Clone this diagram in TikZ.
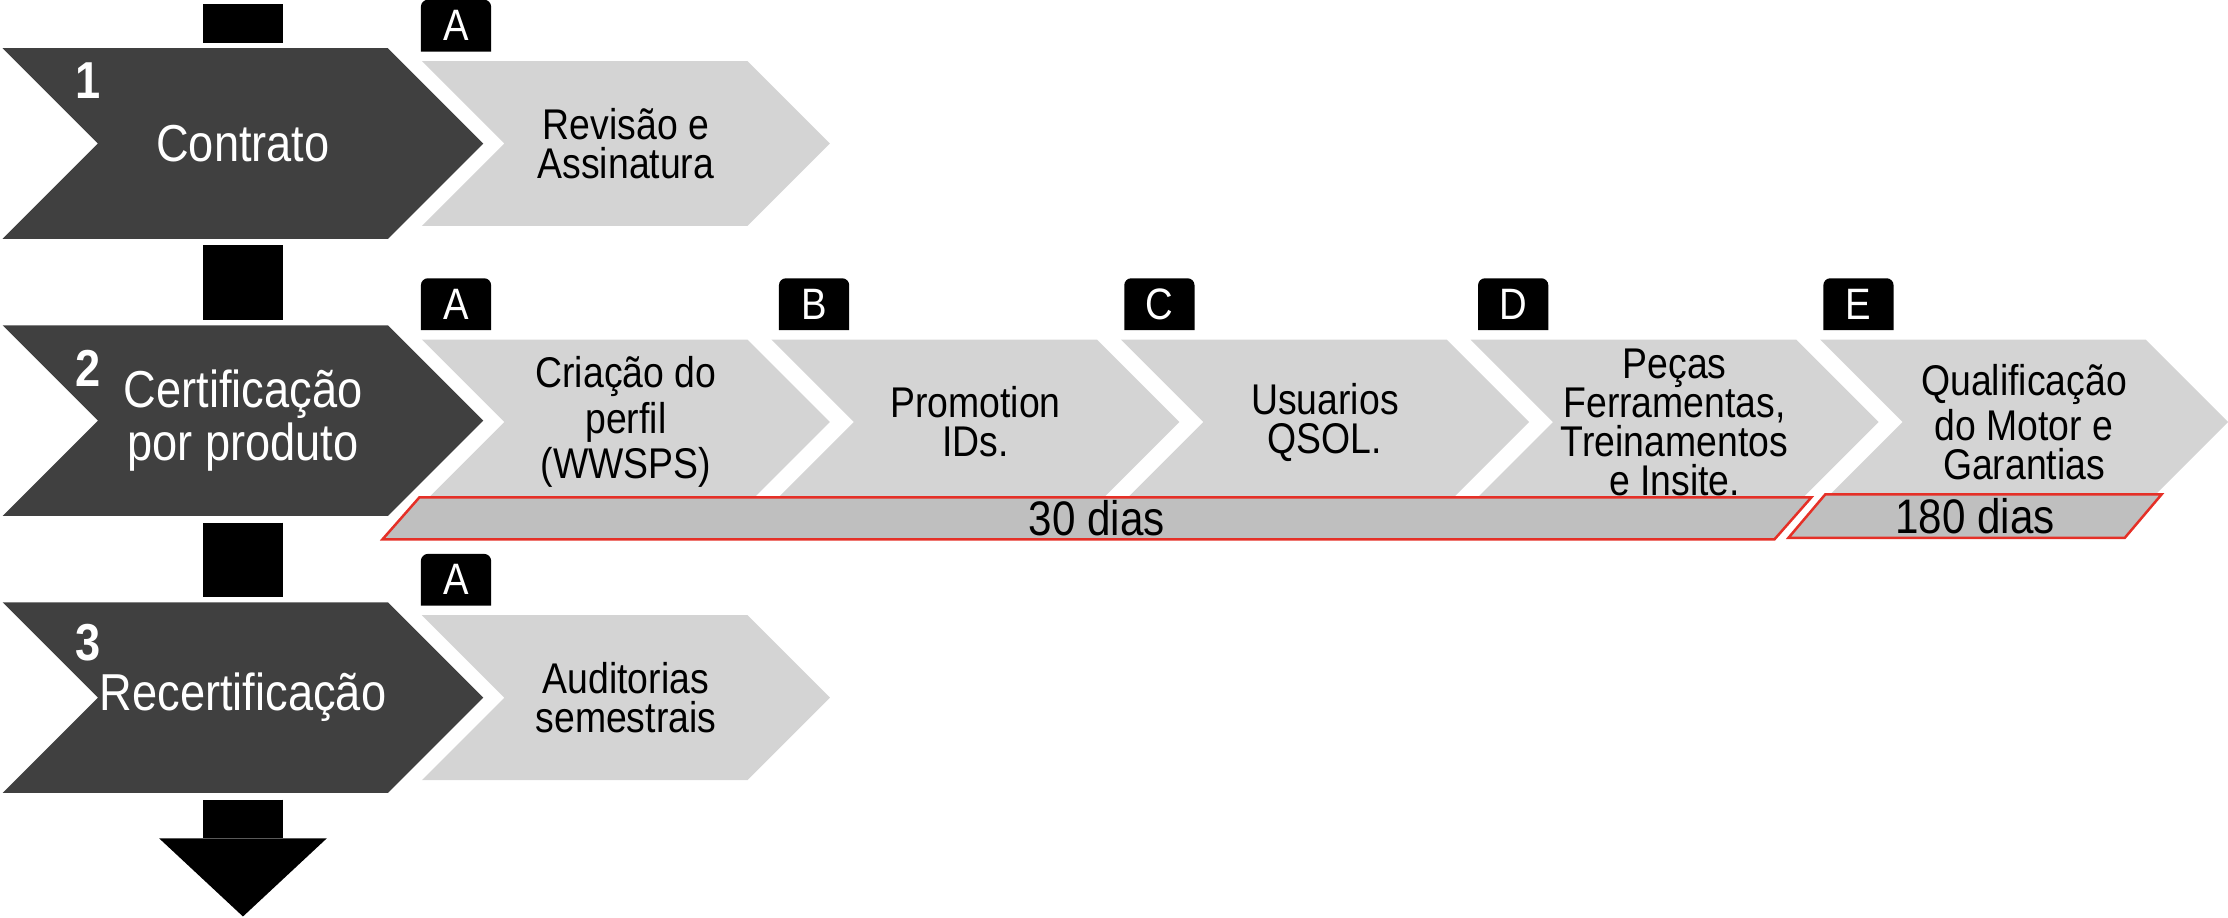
\documentclass[tikz,border=0pt]{standalone}
\usepackage{fontspec}
\setmainfont{Liberation Sans}[FakeStretch=0.87]
\usetikzlibrary{shapes.symbols,shapes.geometric,arrows.meta,backgrounds}

\definecolor{phasegray}{HTML}{404040}
\definecolor{taskgray}{HTML}{D4D4D4}
\definecolor{daysgray}{HTML}{BFBFBF}
\definecolor{daysred}{HTML}{E53027}

\tikzset{
  phase/.style={signal, signal from=west, signal to=east, signal pointer angle=90,
    fill=phasegray, text=white, inner sep=0pt, align=center,
    minimum width=3.38cm, minimum height=1.34cm,
    font=\fontsize{10.4}{10.6}\selectfont},
  task/.style={signal, signal from=west, signal to=east, signal pointer angle=90,
    fill=taskgray, inner sep=0pt, align=center,
    minimum width=2.87cm, minimum height=1.16cm,
    font=\fontsize{8.6}{7.8}\selectfont},
  tag/.style={text=white, inner sep=0pt, minimum width=0.48cm, minimum height=0.35cm,
    font=\fontsize{8.8}{10}\selectfont},
  num/.style={text=white, inner sep=0pt, font=\bfseries\fontsize{10.4}{11}\selectfont},
  bar/.style={black, line width=0.56cm},
  days/.style={trapezium, trapezium left angle=44, trapezium right angle=136,
    trapezium stretches body=true, fill=daysgray, draw=daysred, line width=0.5pt,
    inner sep=0pt, font=\fontsize{9.7}{10}\selectfont}
}

\begin{document}
\begin{tikzpicture}[x=0.01cm,y=-0.01cm]
\useasboundingbox (0,0) rectangle (1568,646);

% phases
\node[phase] (p1) at (171,101) {Contrato};
\node[phase] (p2) at (171,296) {Certificação\\por produto};
\node[phase] (p3) at (171,491) {Recertificação};
\node[num] (n1) at (62,57) {1};
\node[num] (n2) at (62,259) {2};
\node[num] (n3) at (62,452) {3};

% connectors between phases
\coordinate (start) at (171,3);
\coordinate (finish) at (171,645);
\draw[bar,shorten >=0.03cm] (start) -- (p1.north);
\draw[bar,shorten <=0.04cm,shorten >=0.03cm] (p1.south) -- (p2.north);
\draw[bar,shorten <=0.04cm,shorten >=0.03cm] (p2.south) -- (p3.north);
\draw[bar,shorten <=0.04cm,-{Triangle[width=1.18cm,length=0.55cm,line width=0pt]}] (p3.south) -- (finish);

% tasks
\node[task] (t1a) at (440.5,101) {Revisão e\\Assinatura};
\foreach \k/\txt [count=\i from 0] in {a/{Criação do\\perfil\\(WWSPS)}, b/{Promotion\\IDs.},
    c/{Usuarios\\QSOL.}, d/{Peças\\Ferramentas,\\Treinamentos\\e Insite.},
    e/{Qualificação\\do Motor e\\Garantias}}
  \node[task] (t2\k) at (440.5+246*\i,297) {\txt};
\node[task] (t3a) at (440.5,491) {Auditorias\\semestrais};

% tags above the tasks
\foreach \t/\lab/\dx in {t1a/A/0.01, t2a/A/0.01, t2b/B/0.07, t2c/C/0.04, t2d/D/0.07, t2e/E/0.04, t3a/A/0.01} {
  \node[tag,anchor=south west] (l\t) at ([shift={(\dx cm,0.06cm)}]\t.north west) {\lab};
  \begin{scope}[on background layer]
    \fill (l\t.south west) [rounded corners=1.4pt] -- (l\t.north west) -- (l\t.north east)
      [sharp corners] -- (l\t.south east) -- cycle;
  \end{scope}
}

% durations
\node[days,minimum width=10.05cm,minimum height=0.295cm] (d30) at (772,364.8) {30 dias};
\node[days,minimum width=2.625cm,minimum height=0.306cm] (d180) at (1390,363.2) {180 dias};

\end{tikzpicture}
\end{document}
